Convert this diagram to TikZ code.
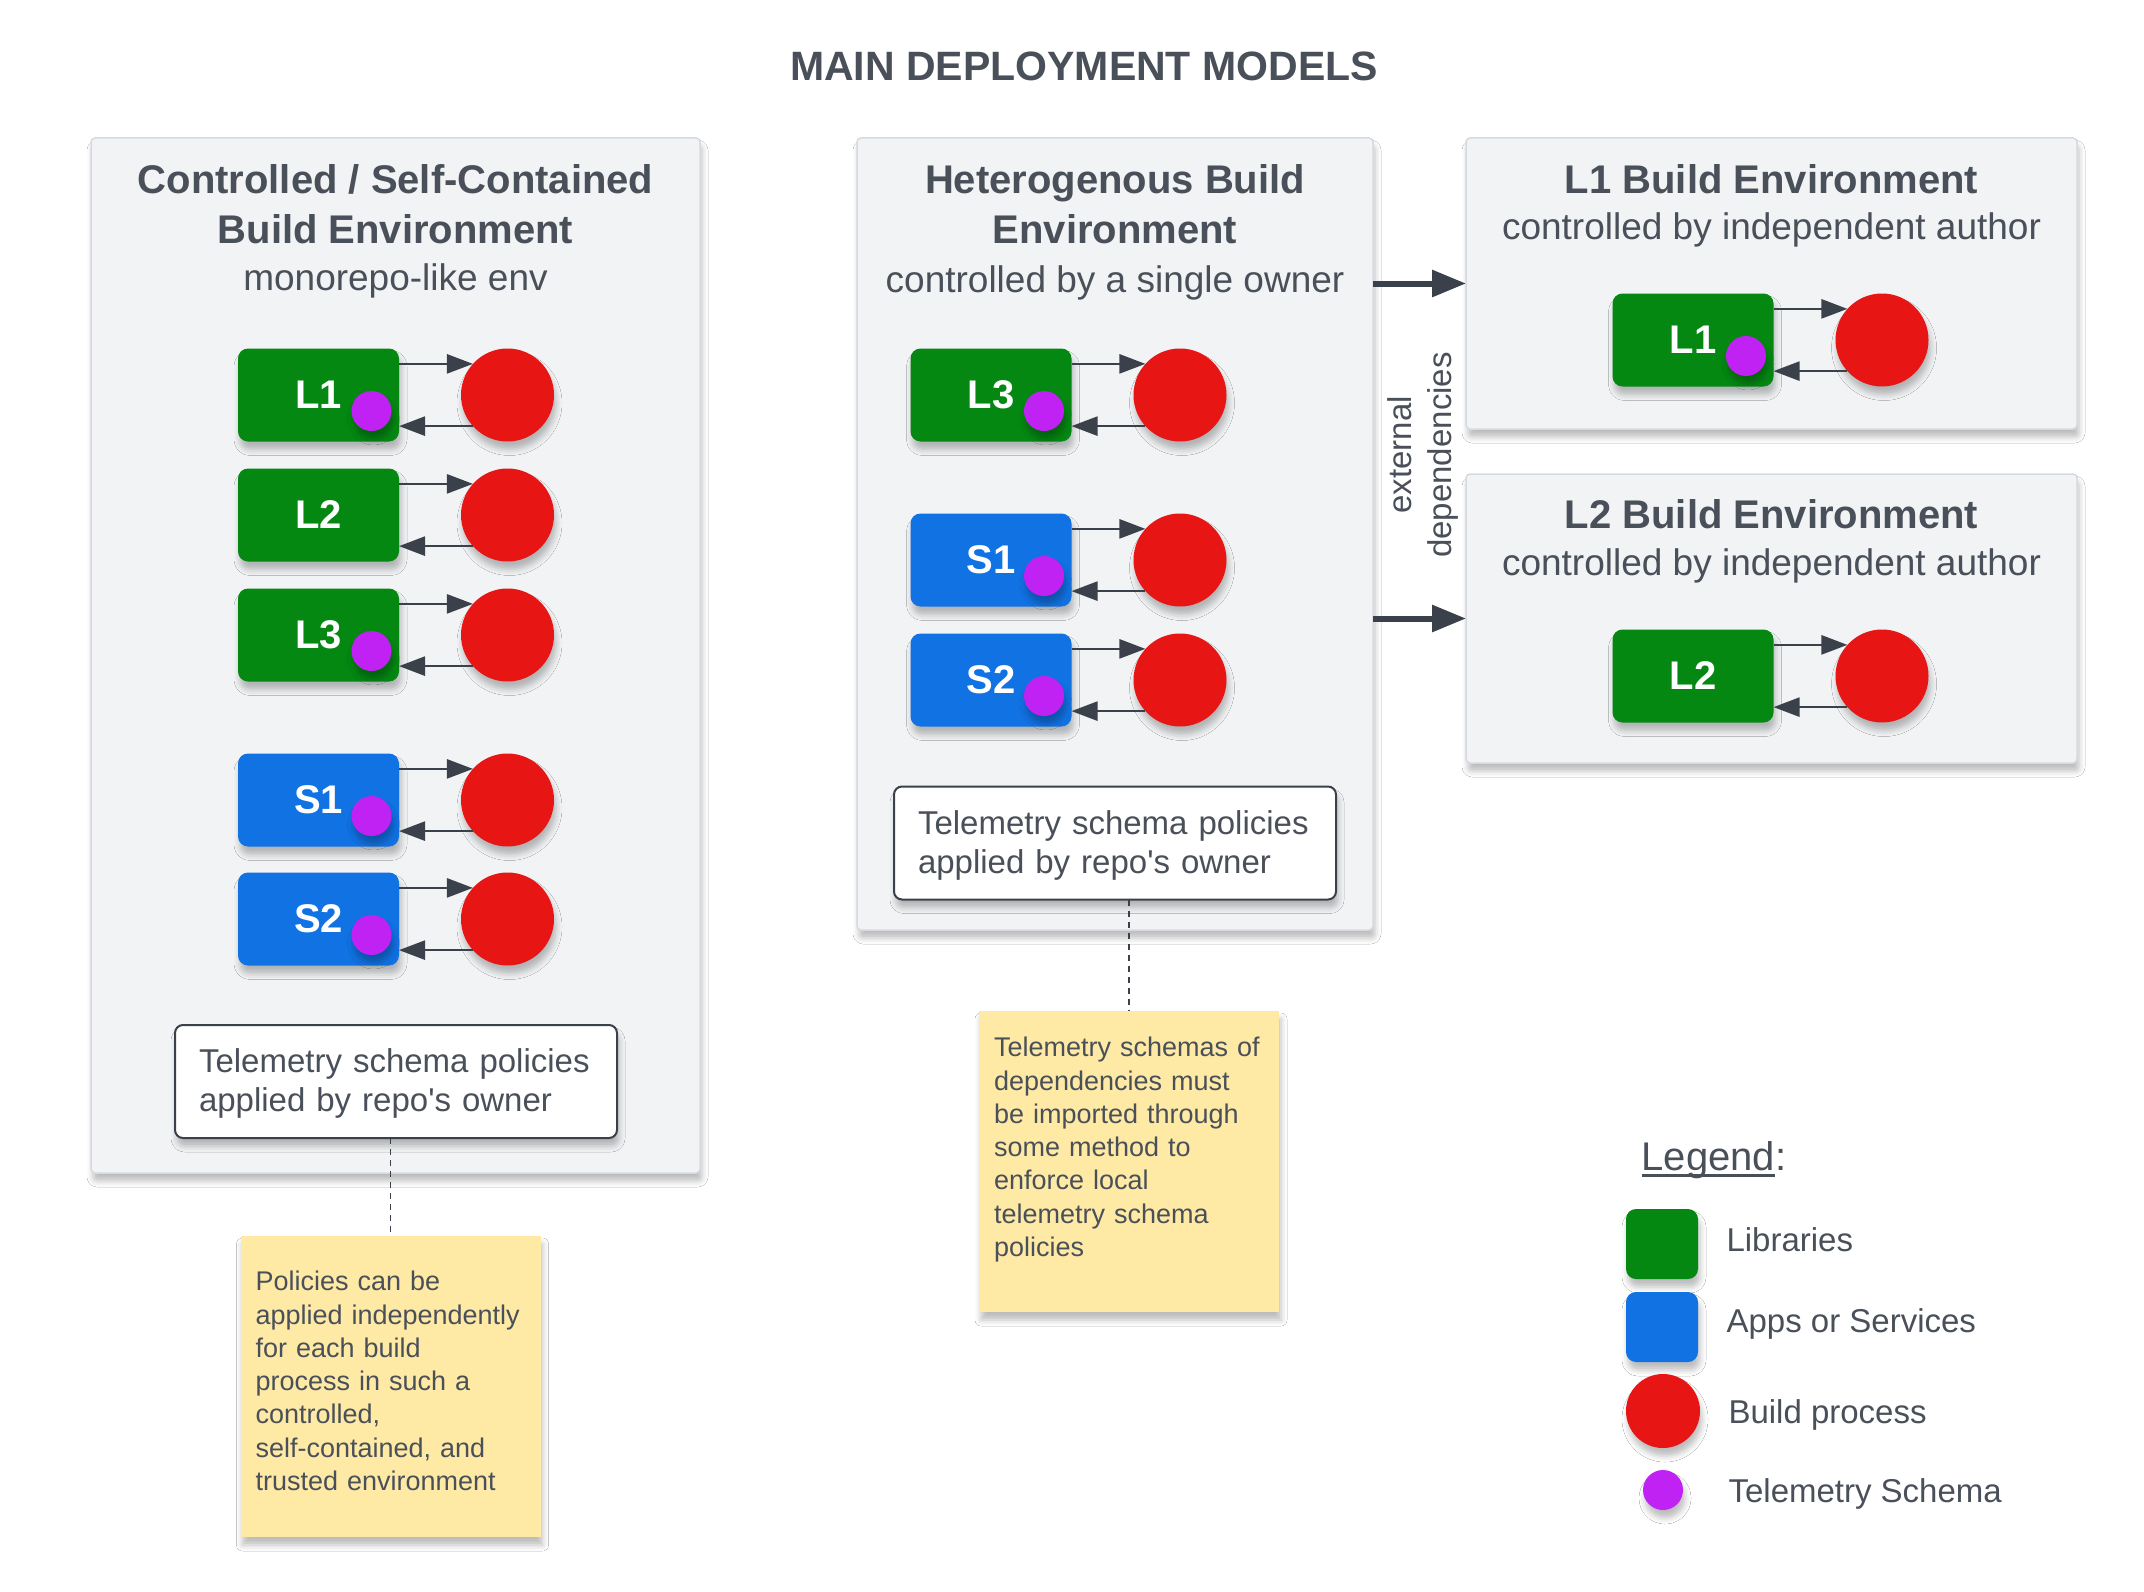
\documentclass[tikz,border=0pt]{standalone}
\usepackage{fontspec}
\setmainfont{Liberation Sans}
\usetikzlibrary{arrows.meta,positioning,shadows.blur}

\definecolor{txtgray}{RGB}{74,80,89}
\definecolor{arrgray}{RGB}{58,65,74}
\definecolor{panelfill}{RGB}{241,243,245}
\definecolor{paneledge}{RGB}{214,218,223}
\definecolor{libgreen}{RGB}{4,136,18}
\definecolor{svcblue}{RGB}{17,114,228}
\definecolor{procred}{RGB}{232,21,21}
\definecolor{schemaviolet}{RGB}{191,34,243}
\definecolor{stickyfill}{RGB}{254,233,165}

\newcommand{\fsz}[2]{\fontsize{#1}{#2}\selectfont}
\newcommand{\legendul}[1]{\sbox0{#1}\rlap{\rule[-6.5pt]{\wd0}{2.5pt}}\usebox0}

\tikzset{
  softshadow/.style={blur shadow={shadow xshift=2pt, shadow yshift=-8pt, shadow blur radius=6pt, shadow opacity=26}},
  panel/.style={draw=paneledge, line width=1.5pt, fill=panelfill, rounded corners=4pt, inner sep=0pt, outer sep=0pt, softshadow},
  comp/.style={rounded corners=10pt, minimum width=161pt, minimum height=93pt, inner sep=0pt, outer sep=0pt, text=white, font=\fsz{40}{48}\bfseries, softshadow},
  lib/.style={comp, fill=libgreen},
  svc/.style={comp, fill=svcblue},
  proc/.style={circle, fill=procred, minimum size=93pt, inner sep=0pt, outer sep=0pt, softshadow},
  schema/.style={circle, fill=schemaviolet, minimum size=40pt, inner sep=0pt, outer sep=0pt, softshadow},
  flow/.style={draw=arrgray, line width=2.5pt, -{Triangle[length=26pt,width=19pt]}},
  dep/.style={draw=arrgray, line width=6pt, -{Triangle[length=34pt,width=26pt]}},
  headline/.style={anchor=base, text=txtgray, font=\fsz{40}{48}\bfseries},
  subline/.style={anchor=base, text=txtgray, font=\fsz{37}{44}},
  policybox/.style={draw=arrgray, line width=2pt, fill=white, rounded corners=8pt, minimum width=442pt, minimum height=113pt, text width=394pt, inner xsep=24pt, align=left, outer sep=0pt, text depth=41pt, text=txtgray, font=\fsz{33}{39}, softshadow},
  sticky/.style={fill=stickyfill, minimum width=300pt, minimum height=301pt, text width=270pt, inner xsep=15pt, align=left, outer sep=0pt, text=txtgray, font=\fsz{27}{33.3}, softshadow},
  notelink/.style={draw=arrgray, line width=1.5pt, dash pattern=on 6pt off 5pt},
  legtext/.style={anchor=base west, text=txtgray, font=\fsz{33}{40}},
}

\begin{document}
\begin{tikzpicture}[x=1pt, y=-1pt]

\fill[white] (0,0) rectangle (2144,1592);
\useasboundingbox (0,0) rectangle (2144,1592);

%TITLE
\node[anchor=base, text=txtgray, font=\fsz{41}{48}\bfseries] (title) at (1084,81) {MAIN DEPLOYMENT MODELS};

%PANELS
\node[panel, minimum width=609pt, minimum height=1035pt] (envA) at (395.5,655.5) {};
\node[panel, minimum width=516pt, minimum height=792pt] (envB) at (1115,534) {};
\node[panel, minimum width=611pt, minimum height=291pt] (envC) at (1771.5,283.5) {};
\node[panel, minimum width=611pt, minimum height=289pt] (envD) at (1771.5,618.5) {};

%Headers
\node[headline] (hdA1) at (395.5,193) {Controlled / Self-Contained};
\node[headline] (hdA2) at (395.5,243) {Build Environment};
\node[subline]  (hdA3) at (395.5,290) {monorepo-like env};

\node[headline] (hdB1) at (1115,193) {Heterogenous Build};
\node[headline] (hdB2) at (1115,243) {Environment};
\node[subline]  (hdB3) at (1115,292) {controlled by a single owner};

\node[headline] (hdC1) at (1771.5,193) {L1 Build Environment};
\node[subline]  (hdC2) at (1771.5,239) {controlled by independent author};

\node[headline] (hdD1) at (1771.5,528) {L2 Build Environment};
\node[subline]  (hdD2) at (1771.5,575) {controlled by independent author};

%Components and build processes
\foreach \id/\lbl/\kind/\x/\y/\sch in {
    a1/L1/lib/318.5/395/1, a2/L2/lib/318.5/515/0, a3/L3/lib/318.5/635/1,
    a4/S1/svc/318.5/800/1, a5/S2/svc/318.5/919/1,
    b1/L3/lib/991/395/1, b2/S1/svc/991/560/1, b3/S2/svc/991/680/1,
    c1/L1/lib/1693/340/1, d1/L2/lib/1693/676/0}
{
  \node[\kind] (\id) at (\x,\y) {\lbl};
  \node[proc, right=62pt of \id] (bp\id) {};
  \draw[flow] (\id.east |- bp\id.138) -- (bp\id.138);
  \draw[flow] (bp\id.222) -- (\id.east |- bp\id.222);
  \ifnum\sch=1
    \node[schema] (ts\id) at ([xshift=53pt, yshift=-16pt]\id.center) {};
  \fi
}

%External dependencies
\draw[dep] (envB.east |- envC.west) -- (envC.west);
\draw[dep] (envB.east |- envD.west) -- (envD.west);
\node[rotate=90, align=center, text=txtgray, font=\fsz{33}{40}] (extdeps) at (1423,455) {external\\dependencies};

%Policies
\node[policybox] (polA) at (396,1081.5) {Telemetry schema policies\\applied by repo\textquotesingle s owner};
\node[policybox] (polB) at (1115,843) {Telemetry schema policies\\applied by repo\textquotesingle s owner};

%Notes
\node[sticky, text depth=211pt] (noteA) at (390.5,1386.5) {Policies can be\\applied independently\\for each build\\process in such a\\controlled,\\self-contained, and\\trusted environment};
\node[sticky, text depth=229pt] (noteB) at (1129,1161.5) {Telemetry schemas of\\dependencies must\\be imported through\\some method to\\enforce local\\telemetry schema\\policies};
\draw[notelink] (noteA.north |- polA.south) -- (noteA.north);
\draw[notelink] (noteB.north |- polB.south) -- (noteB.north);

%Legend
\node[anchor=base west, text=txtgray, font=\fsz{40}{48}] (legendHead) at (1638,1170) {\legendul{Legend}:};
\node[lib, minimum width=72pt, minimum height=70pt] (keyLib) at (1662,1244) {};
\node[svc, minimum width=72pt, minimum height=70pt] (keySvc) at (1662,1327) {};
\node[proc, minimum size=74pt] (keyProc) at (1663,1411) {};
\node[schema] (keySchema) at (1663,1490) {};
\node[legtext] (keyLibTxt) at (1723,1251) {Libraries};
\node[legtext] (keySvcTxt) at (1723,1332) {Apps or Services};
\node[legtext] (keyProcTxt) at (1725,1423) {Build process};
\node[legtext] (keySchemaTxt) at (1725,1502) {Telemetry Schema};

\end{tikzpicture}
\end{document}
